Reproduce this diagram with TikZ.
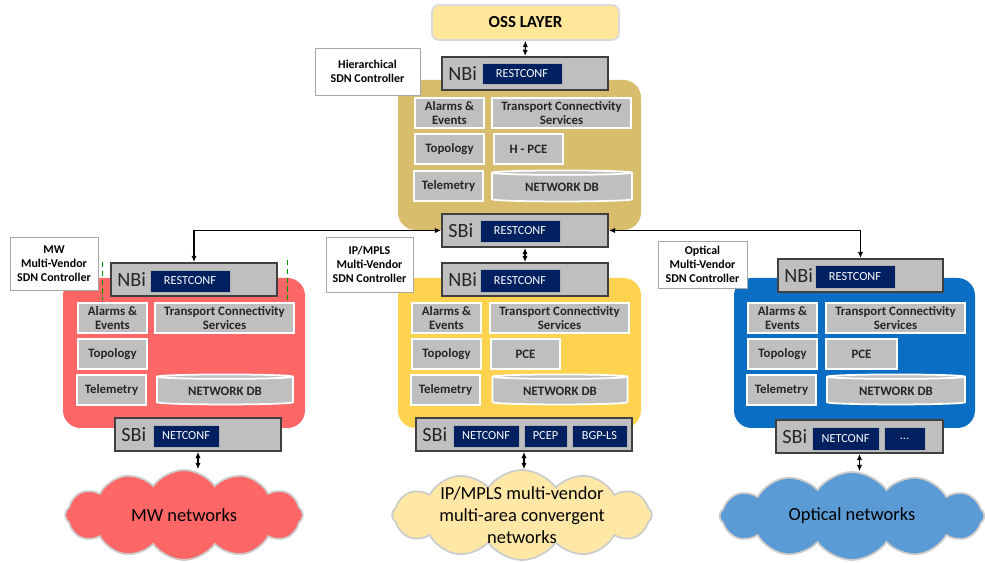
\documentclass[tikz,border=0pt]{standalone}
\usepackage{fontspec}
\setmainfont{Carlito}
\definecolor{ossyel}{HTML}{FFE699}
\definecolor{hiertan}{HTML}{D8BE6C}
\definecolor{mwred}{HTML}{FF6666}
\definecolor{ipyel}{HTML}{FFD34F}
\definecolor{optblue}{HTML}{0A6EC4}
\definecolor{cloudyel}{HTML}{FFE8A6}
\definecolor{cloudblue}{HTML}{5B9BD5}
\definecolor{navy}{HTML}{002060}
\definecolor{boxgray}{HTML}{BFBFBF}
\definecolor{edgegray}{HTML}{404040}
\usetikzlibrary{fit, arrows.meta, shapes.geometric, shapes.symbols}

\tikzset{
  body/.style={rounded corners=10pt, inner sep=0pt},
  ibox/.style={fill=boxgray, draw=white, line width=1pt, inner sep=0pt,
    label={[align=center, inner sep=0pt, text=black!85, font=\fontsize{7.3}{8.4}\selectfont\bfseries]center:#1}},
  ifbox/.style={fill=boxgray, draw=edgegray, line width=1.2pt, inner sep=0pt},
  proto/.style={fill=navy, draw=gray!60, line width=0.4pt, inner sep=0pt,
    label={[inner sep=0pt, text=white, font=\fontsize{7}{8}\selectfont]center:#1}},
  ifname/.style={font=\fontsize{11.5}{12}\selectfont, text=black!85, inner sep=0pt, anchor=west},
  ctlname/.style={fill=white, draw=gray!70, inner sep=0pt,
    label={[align=center, inner sep=0pt, font=\fontsize{6.8}{8}\selectfont\bfseries]center:#1}},
  db/.style={cylinder, shape border rotate=90, aspect=0.06, fill=boxgray, draw=white,
    line width=1pt, inner sep=0pt, text=black!85, font=\fontsize{7.3}{8.4}\selectfont\bfseries},
  net/.style={cloud, cloud puffs=12, cloud puff arc=110, cloud ignores aspect, draw=gray!40,
    line width=1pt, inner sep=0pt,
    label={[align=center, inner sep=0pt, font=\fontsize{10.5}{12.5}\selectfont]center:#1}},
  link/.style={{Latex[length=3.5pt,width=3pt]}-{Latex[length=3.5pt,width=3pt]}, line width=0.6pt}
}

\begin{document}
\begin{tikzpicture}[x=0.02cm, y=-0.02cm]
  \useasboundingbox (0,0) rectangle (985,563);

  % controller bodies
  \node[body, fill=hiertan, fit={(398,80) (641,230)}] (hbody) {};
  \node[body, fill=mwred, fit={(63,278) (305,428)}] (mwbody) {};
  \node[body, fill=ipyel, fit={(398,278) (641,428)}] (ipbody) {};
  \node[body, fill=optblue, fit={(734,278) (975,428)}] (opbody) {};
  \draw[green!60!black, densely dashed, thin] (102,262) -- (102,300) (287,260) -- (287,300);

  % OSS
  \node[fill=ossyel, draw=gray!30, line width=1pt, rounded corners=4pt, inner sep=0pt,
    label={[font=\fontsize{9.6}{10}\selectfont\bfseries]center:OSS LAYER},
    fit={(432,5) (619,40)}] (oss) {};

  % hierarchical controller
  \node[ctlname={Hierarchical\\SDN Controller}, fit={(315,48) (420,95)}] (hname) {};
  \node[ifbox, fit={(442,57) (608,90)}] (hnbi) {};
  \node[ifname] (hnbit) at (448,73.5) {NBi};
  \node[proto=RESTCONF, fit={(482,63) (562,84)}] (hnbip) {};
  \node[ibox={Alarms \&\\Events}, fit={(415,98) (484,128)}] (halarm) {};
  \node[ibox={Transport Connectivity\\Services}, fit={(492,98) (631,128)}] (htcs) {};
  \node[ibox=Topology, fit={(415,134) (484,164)}] (htopo) {};
  \node[ibox={H - PCE}, fit={(494,134) (563,164)}] (hpce) {};
  \node[ibox=Telemetry, fit={(414,171) (483,201)}] (htele) {};
  \node[db, minimum width=2.8cm, minimum height=0.62cm] (hdb) at (562,187.5) {NETWORK DB};
  \node[ifbox, fit={(442,214) (608,247)}] (hsbi) {};
  \node[ifname] (hsbit) at (448,230.5) {SBi};
  \node[proto=RESTCONF, fit={(480,220) (560,242)}] (hsbip) {};

  % MW controller
  \node[ctlname={MW\\Multi-Vendor\\SDN Controller}, fit={(10,237) (98,290)}] (mwname) {};
  \node[ifbox, fit={(111,263) (277,296)}] (mwnbi) {};
  \node[ifname] (mwnbit) at (117,279.5) {NBi};
  \node[proto=RESTCONF, fit={(150,270) (230,292)}] (mwnbip) {};
  \node[ibox={Alarms \&\\Events}, fit={(78,303) (147,333)}] (mwalarm) {};
  \node[ibox={Transport Connectivity\\Services}, fit={(155,303) (294,333)}] (mwtcs) {};
  \node[ibox=Topology, fit={(78,339) (147,369)}] (mwtopo) {};
  \node[ibox=Telemetry, fit={(77,375) (146,405)}] (mwtele) {};
  \node[db, minimum width=2.72cm, minimum height=0.6cm] (mwdb) at (225,391) {NETWORK DB};
  \node[ifbox, fit={(115,418) (281,451)}] (mwsbi) {};
  \node[ifname] (mwsbit) at (121,434.5) {SBi};
  \node[proto=NETCONF, fit={(153,425) (219,447)}] (mwsbip) {};

  % IP/MPLS controller
  \node[ctlname={IP/MPLS\\Multi-Vendor\\SDN Controller}, fit={(326,237) (413,292)}] (ipname) {};
  \node[ifbox, fit={(442,263) (608,296)}] (ipnbi) {};
  \node[ifname] (ipnbit) at (448,279.5) {NBi};
  \node[proto=RESTCONF, fit={(480,269) (560,292)}] (ipnbip) {};
  \node[ibox={Alarms \&\\Events}, fit={(412,303) (481,333)}] (ipalarm) {};
  \node[ibox={Transport Connectivity\\Services}, fit={(490,303) (629,333)}] (iptcs) {};
  \node[ibox=Topology, fit={(412,339) (481,369)}] (iptopo) {};
  \node[ibox=PCE, fit={(491,339) (560,369)}] (ippce) {};
  \node[ibox=Telemetry, fit={(411,375) (480,405)}] (iptele) {};
  \node[db, minimum width=2.7cm, minimum height=0.6cm] (ipdb) at (560,391) {NETWORK DB};
  \node[ifbox, fit={(416,418) (632,451)}] (ipsbi) {};
  \node[ifname] (ipsbit) at (422,434.5) {SBi};
  \node[proto=NETCONF, fit={(453,425) (519,447)}] (ipsbip) {};
  \node[proto=PCEP, fit={(524,425) (567,447)}] (ippcep) {};
  \node[proto=BGP-LS, fit={(572,425) (627,447)}] (ipbgp) {};

  % optical controller
  \node[ctlname={Optical\\Multi-Vendor\\SDN Controller}, fit={(658,241) (747,288)}] (opname) {};
  \node[ifbox, fit={(778,259) (943,292)}] (opnbi) {};
  \node[ifname] (opnbit) at (784,275.5) {NBi};
  \node[proto=RESTCONF, fit={(815,265) (895,288)}] (opnbip) {};
  \node[ibox={Alarms \&\\Events}, fit={(748,303) (817,333)}] (opalarm) {};
  \node[ibox={Transport Connectivity\\Services}, fit={(826,303) (965,333)}] (optcs) {};
  \node[ibox=Topology, fit={(748,339) (817,369)}] (optopo) {};
  \node[ibox=PCE, fit={(826,339) (897,369)}] (oppce) {};
  \node[ibox=Telemetry, fit={(747,375) (816,405)}] (optele) {};
  \node[db, minimum width=2.76cm, minimum height=0.6cm] (opdb) at (896,391) {NETWORK DB};
  \node[ifbox, fit={(776,420) (943,453)}] (opsbi) {};
  \node[ifname] (opsbit) at (782,436.5) {SBi};
  \node[proto=NETCONF, fit={(812,427) (879,450)}] (opsbip) {};
  \node[proto=..., fit={(884,427) (925,450)}] (opmore) {};

  % networks
  \node[net=MW networks, fill=mwred, minimum width=4.76cm, minimum height=1.8cm] (mwnet) at (184,515) {};
  \node[net={IP/MPLS multi-vendor\\multi-area convergent\\networks}, fill=cloudyel,
    minimum width=5.2cm, minimum height=1.8cm] (ipnet) at (522,515) {};
  \node[net=Optical networks, fill=cloudblue, minimum width=5.3cm, minimum height=1.76cm] (opnet) at (852,516) {};

  % links
  \draw[link] (oss.south) -- (hnbi.north);
  \draw[link] (hsbi.west) -| (mwnbi.north);
  \draw[link] (hsbi.east) -| (opnbi.north);
  \draw[link] (hsbi.south) -- (ipnbi.north);
  \draw[link] (mwsbi.south) -- (mwsbi.south |- mwnet.north);
  \draw[link] (ipsbi.south) -- (ipsbi.south |- ipnet.north);
  \draw[link] (opsbi.south) -- (opsbi.south |- opnet.north);
\end{tikzpicture}
\end{document}
